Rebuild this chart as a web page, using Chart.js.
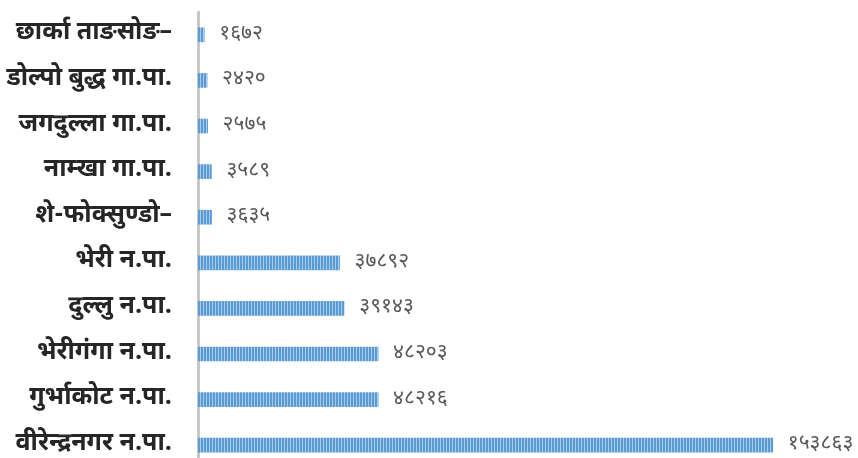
<!DOCTYPE html>
<html>
<head>
<meta charset="utf-8">
<script src="https://cdn.jsdelivr.net/npm/chart.js@4"></script>
<style>
  html, body { margin: 0; padding: 0; background: #fff; overflow: hidden; }
  canvas { display: block; }
</style>
</head>
<body>
<canvas id="migrafica" width="858" height="468"></canvas>
<script>
// Datos de la gráfica
const categorias = ["छार्का ताङसोङ–", "डोल्पो बुद्ध गा.पा.", "जगदुल्ला गा.पा.", "नाम्खा गा.पा.", "शे-फोक्सुण्डो–",
  "भेरी न.पा.", "दुल्लु न.पा.", "भेरीगंगा न.पा.", "गुर्भाकोट न.पा.", "वीरेन्द्रनगर न.पा."];
const valores = [1672, 2420, 2575, 3589, 3635, 37892, 39143, 48203, 48216, 153863];
const etiquetas = ["१६७२", "२४२०", "२५७५", "३५८९", "३६३५", "३७८९२", "३९१४३", "४८२०३", "४८२१६", "१५३८६३"];

const fuente = "'Noto Sans Devanagari', 'Lohit Devanagari', 'Noto Sans', sans-serif";

// Patrón de rayas verticales para las barras
function rayas() {
  const c = document.createElement("canvas");
  c.width = 3; c.height = 10;
  const g = c.getContext("2d");
  g.fillStyle = "#5b9bd5";
  g.fillRect(0, 0, 3, 10);
  g.fillStyle = "#a9cbea";
  g.fillRect(2, 0, 1, 10);
  return g.createPattern(c, "repeat");
}

// Plugin para poner los valores al final de cada barra
const valoresBarra = {
  id: "valoresBarra",
  afterDatasetsDraw(chart) {
    const ctx = chart.ctx;
    const meta = chart.getDatasetMeta(0);
    ctx.save();
    ctx.font = "21px " + fuente;
    ctx.fillStyle = "#595959";
    ctx.textBaseline = "middle";
    meta.data.forEach((bar, i) => {
      ctx.fillText(etiquetas[i], bar.x + 15, bar.y);
    });
    ctx.restore();
  }
};

const ctx = document.getElementById("migrafica").getContext("2d");
new Chart(ctx, {
  type: "bar",
  data: {
    labels: categorias,
    datasets: [{
      data: valores,
      backgroundColor: rayas(),
      barThickness: 14
    }]
  },
  options: {
    indexAxis: "y",
    responsive: false,
    animation: false,
    devicePixelRatio: 1,
    layout: { padding: { top: 12, right: 10, bottom: 0, left: 0 } },
    plugins: { legend: { display: false }, tooltip: { enabled: false } },
    scales: {
      x: {
        display: false,
        min: 0,
        max: 174000
      },
      y: {
        afterFit(scale) {
          scale.width = 198;
          scale.paddingTop = 0;
          scale.paddingBottom = 0;
        },
        grid: { display: false, drawTicks: false },
        border: { display: true, color: "#c8c8c8", width: 3 },
        ticks: {
          color: "#262626",
          padding: 26,
          autoSkip: false,
          font: { family: fuente, size: 25, weight: "bold" }
        }
      }
    }
  },
  plugins: [valoresBarra]
});
</script>
</body>
</html>
